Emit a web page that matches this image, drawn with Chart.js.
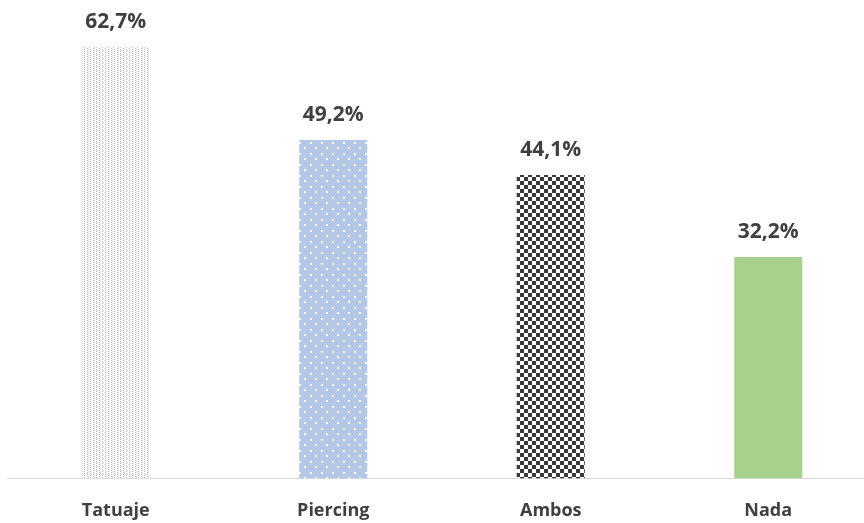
<!DOCTYPE html>
<html>
<head>
<meta charset="utf-8">
<script src="https://cdn.jsdelivr.net/npm/chart.js@4"></script>
<style>
  html, body { margin: 0; padding: 0; background: #ffffff; overflow: hidden; }
  body { width: 864px; height: 523px; position: relative; }
  #wrap { position: absolute; left: 0; top: -3px; width: 880px; height: 549px; }
</style>
</head>
<body>
<div id="wrap"><canvas id="chart"></canvas></div>
<script>
  var categories = ['Tatuaje', 'Piercing', 'Ambos', 'Nada'];
  var values = [62.7, 49.2, 44.1, 32.2];
  var valueLabels = ['62,7%', '49,2%', '44,1%', '32,2%'];

  var TEXT = '#404040';
  var FONT = "'Open Sans', 'Noto Sans', sans-serif";

  function tile(w, h, draw) {
    var c = document.createElement('canvas');
    c.width = w; c.height = h;
    var g = c.getContext('2d');
    draw(g);
    return g.createPattern(c, 'repeat');
  }

  // light grey dotted columns
  var tatuajeFill = tile(6, 4, function (g) {
    g.fillStyle = '#ffffff'; g.fillRect(0, 0, 6, 4);
    g.fillStyle = '#b8b8b8';
    g.fillRect(0, 0, 1, 1); g.fillRect(0, 2, 1, 1);
    g.fillRect(3, 1, 1, 1); g.fillRect(3, 3, 1, 1);
    g.fillStyle = '#dcdcdc';
    g.fillRect(1, 1, 1, 1); g.fillRect(4, 0, 1, 1); g.fillRect(4, 2, 1, 1);
  });

  // blue with small white dots
  var piercingFill = tile(11, 11, function (g) {
    g.fillStyle = '#b4c7e7'; g.fillRect(0, 0, 11, 11);
    g.fillStyle = '#ffffff';
    g.fillRect(2, 2, 2, 2);
    g.fillRect(7, 7, 2, 2);
  });

  // checkerboard
  var ambosFill = tile(8, 8, function (g) {
    g.fillStyle = '#ffffff'; g.fillRect(0, 0, 8, 8);
    g.fillStyle = '#3a3a3a';
    g.fillRect(0, 0, 4, 4); g.fillRect(4, 4, 4, 4);
  });

  var nadaFill = '#a9d18e';

  var valueLabelPlugin = {
    id: 'valueLabels',
    afterDatasetsDraw: function (chart) {
      var ctx = chart.ctx;
      var meta = chart.getDatasetMeta(0);
      ctx.save();
      ctx.fillStyle = TEXT;
      ctx.font = 'bold 21px ' + FONT;
      ctx.textAlign = 'center';
      ctx.textBaseline = 'alphabetic';
      meta.data.forEach(function (bar, i) {
        ctx.fillText(valueLabels[i], bar.x, bar.y - 19);
      });
      ctx.restore();
    }
  };

  new Chart(document.getElementById('chart'), {
    type: 'bar',
    data: {
      labels: categories,
      datasets: [{
        data: values,
        backgroundColor: [tatuajeFill, piercingFill, ambosFill, nadaFill],
        borderWidth: 0,
        categoryPercentage: 1,
        barPercentage: 0.313
      }]
    },
    options: {
      responsive: true,
      maintainAspectRatio: false,
      animation: false,
      layout: { padding: { left: 7, right: 3, top: 0, bottom: 2 } },
      plugins: {
        legend: { display: false },
        tooltip: { enabled: false }
      },
      scales: {
        x: {
          grid: { display: false, drawTicks: false },
          border: { display: true, color: '#d9d9d9', width: 1 },
          ticks: {
            color: TEXT,
            padding: 22,
            font: { family: FONT, size: 18, weight: 'bold' }
          }
        },
        y: {
          display: false,
          min: 0,
          max: 70
        }
      }
    },
    plugins: [valueLabelPlugin]
  });
</script>
</body>
</html>
